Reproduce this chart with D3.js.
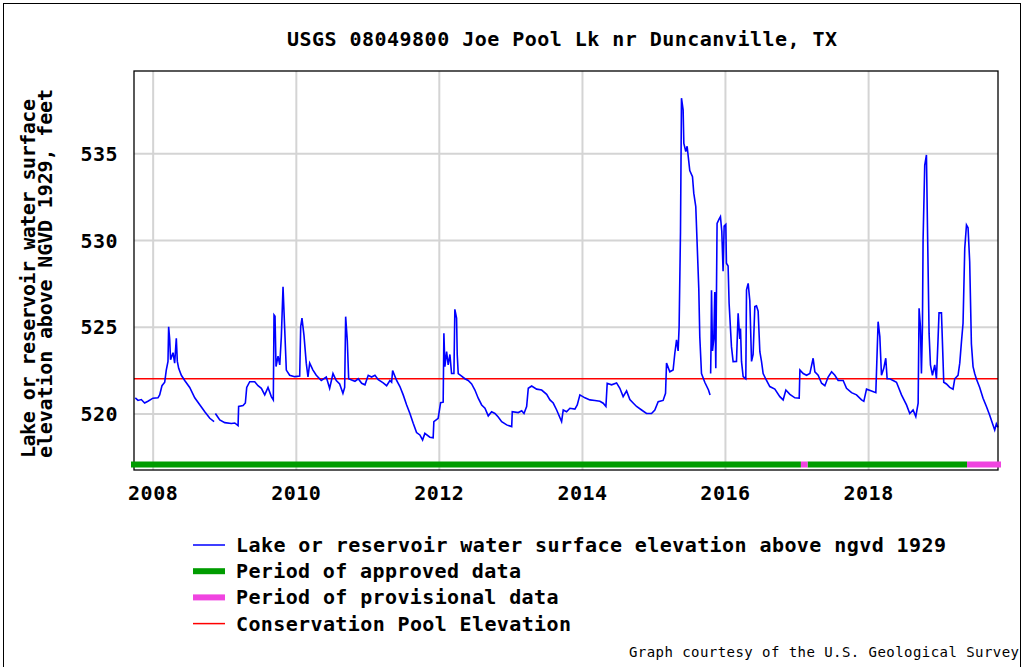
<!DOCTYPE html>
<html><head><meta charset="utf-8">
<script src="https://cdn.jsdelivr.net/npm/d3@7"></script>
<style>
html,body{margin:0;padding:0;background:#fff;}
svg{display:block;}
text{font-family:"DejaVu Sans Mono",monospace;font-weight:bold;fill:#000;}
</style></head>
<body>
<script>
// ---------------- data ----------------
const titleText = "USGS 08049800 Joe Pool Lk nr Duncanville, TX";
const yTitleLines = ["Lake or reservoir water surface", "elevation above NGVD 1929, feet"];
const yTicks = [520, 525, 530, 535];
const xTickYears = [2008, 2010, 2012, 2014, 2016, 2018];
const conservationPool = 522;
const domainYears = [2007.739, 2019.817];
const domainElev = [516.74, 539.74];
const approvedPeriods = [[2007.739, 2017.06], [2017.153, 2019.384]];
const provisionalPeriods = [[2017.06, 2017.153], [2019.384, 2019.817]];
const legendLabels = [
  "Lake or reservoir water surface elevation above ngvd 1929",
  "Period of approved data",
  "Period of provisional data",
  "Conservation Pool Elevation"
];
const creditText = "Graph courtesy of the U.S. Geological Survey";

// decimal-year dates of the daily elevation record (null = missing data)
const years = [
2007.757,2007.795,2007.841,2007.888,2007.934,2008.004,2008.074,2008.098,2008.130,2008.168,
2008.190,2008.214,2008.223,2008.237,2008.250,2008.284,2008.307,2008.330,2008.344,2008.363,
2008.400,2008.447,2008.517,2008.587,2008.657,2008.727,2008.797,2008.857,2008.866,2008.875,
2008.936,2009.006,2009.098,2009.146,2009.192,2009.200,2009.262,2009.294,2009.313,2009.355,
2009.425,2009.471,2009.518,2009.565,2009.611,2009.657,2009.685,2009.695,2009.709,2009.723,
2009.751,2009.775,2009.797,2009.821,2009.845,2009.867,2009.914,2009.984,2010.054,2010.068,
2010.086,2010.114,2010.146,2010.170,2010.194,2010.240,2010.286,2010.356,2010.426,2010.473,
2010.520,2010.566,2010.613,2010.659,2010.683,2010.697,2010.720,2010.739,2010.781,2010.827,
2010.873,2010.921,2010.967,2011.013,2011.060,2011.107,2011.153,2011.222,2011.270,2011.316,
2011.340,2011.354,2011.410,2011.456,2011.502,2011.549,2011.596,2011.642,2011.689,2011.735,
2011.773,2011.805,2011.875,2011.921,2011.931,2011.991,2012.025,2012.061,2012.071,2012.085,
2012.109,2012.131,2012.155,2012.178,2012.211,2012.224,2012.248,2012.257,2012.271,2012.318,
2012.364,2012.410,2012.458,2012.504,2012.550,2012.598,2012.644,2012.690,2012.737,2012.783,
2012.829,2012.877,2012.947,2013.017,2013.025,2013.109,2013.157,2013.189,2013.226,2013.249,
2013.296,2013.366,2013.436,2013.506,2013.552,2013.598,2013.646,2013.715,2013.738,2013.785,
2013.831,2013.901,2013.934,2013.971,2014.041,2014.111,2014.181,2014.251,2014.297,2014.335,
2014.353,2014.414,2014.484,2014.530,2014.576,2014.624,2014.670,2014.716,2014.764,2014.834,
2014.903,2014.973,2015.019,2015.066,2015.135,2015.169,2015.183,2015.229,2015.275,2015.299,
2015.323,2015.345,2015.359,2015.378,2015.392,2015.415,2015.425,2015.452,2015.471,2015.508,
2015.546,2015.564,2015.592,2015.611,2015.634,2015.648,2015.672,2015.718,2015.770,2015.792,
2015.796,2015.800,2015.806,2015.812,2015.826,2015.844,2015.858,2015.872,2015.890,2015.918,
2015.937,2015.956,2015.974,2015.989,2016.012,2016.021,2016.044,2016.058,2016.091,2016.114,
2016.161,2016.184,2016.207,2016.217,2016.231,2016.254,2016.291,2016.301,2016.324,2016.347,
2016.371,2016.393,2016.417,2016.440,2016.463,2016.487,2016.510,2016.533,2016.580,2016.626,
2016.696,2016.766,2016.812,2016.850,2016.906,2016.976,2017.036,2017.046,2017.092,2017.139,
2017.185,2017.231,2017.255,2017.301,2017.349,2017.395,2017.441,2017.489,2017.535,2017.581,
2017.651,2017.698,2017.768,2017.838,2017.908,2017.940,2017.978,2018.048,2018.108,2018.140,
2018.164,2018.187,2018.219,2018.247,2018.266,2018.303,2018.350,2018.397,2018.467,2018.537,
2018.583,2018.629,2018.667,2018.700,2018.713,2018.732,2018.746,2018.760,2018.769,2018.792,
2018.816,2018.830,2018.853,2018.872,2018.900,2018.932,2018.956,2018.978,2018.992,2019.026,
2019.048,2019.058,2019.096,2019.142,2019.188,2019.212,2019.258,2019.282,2019.306,2019.328,
2019.352,2019.376,2019.398,2019.421,2019.445,2019.468,2019.491,2019.515,2019.561,2019.608,
2019.655,2019.701,2019.747,2019.771,2019.794,2019.817
];
// lake elevation, feet above NGVD 1929
const elevation = [
520.9,520.75,520.8,520.6,520.7,520.88,520.9,521.07,521.6,521.8,
522.5,523.0,525.0,524.3,523.1,523.5,522.9,524.33,523.0,522.6,
522.2,521.9,521.5,520.9,520.5,520.1,519.72,519.53,null,520.0,
519.63,519.47,519.42,519.45,519.3,520.4,520.45,520.6,521.5,521.83,
521.83,521.6,521.45,521.07,521.5,520.97,520.78,525.68,525.6,522.7,
523.3,522.8,524.4,527.3,524.8,522.5,522.2,522.12,522.15,525.0,
525.49,524.5,522.9,522.1,522.9,522.5,522.2,521.9,522.1,521.45,
522.3,521.9,521.7,521.16,521.5,525.58,524.2,522.0,521.93,521.85,
522.0,521.74,521.65,522.2,522.1,522.2,521.95,521.76,521.6,521.9,
521.8,522.47,521.9,521.55,521.07,520.5,520.0,519.43,518.9,518.76,
518.47,518.85,518.63,518.6,519.53,519.72,520.62,520.65,524.62,522.7,
523.56,522.8,523.4,522.3,522.3,526.0,525.5,523.4,522.3,522.15,
522.0,521.9,521.7,521.35,520.88,520.49,520.3,519.86,520.1,520.0,
519.8,519.53,519.34,519.24,520.1,520.05,520.15,520.0,520.4,521.45,
521.58,521.4,521.35,521.1,520.78,520.6,520.2,519.53,520.2,520.1,
520.3,520.25,520.49,521.07,520.9,520.78,520.75,520.7,520.59,520.4,
521.74,521.65,521.76,521.45,520.97,521.3,520.8,520.6,520.4,520.2,
520.0,520.0,520.2,520.68,520.75,521.16,522.9,522.4,522.5,523.47,
524.24,523.6,525.0,530.4,538.17,537.5,535.57,535.1,535.4,534.0,
533.65,532.7,531.92,529.8,527.2,524.43,522.3,521.8,521.35,521.07,
null,522.3,524.05,527.1,523.6,524.3,527.0,522.6,530.96,531.2,
531.34,530.5,528.2,530.8,530.9,528.66,528.5,526.35,523.85,522.99,
523.0,525.77,524.3,524.9,523.0,522.12,522.0,527.12,527.5,526.5,
523.0,523.4,526.16,526.2,525.9,523.56,523.0,522.3,521.9,521.55,
521.4,520.97,520.78,521.35,521.1,520.9,520.88,522.5,522.3,522.2,
522.3,523.18,522.4,522.2,521.74,521.6,522.1,522.4,522.2,521.9,
521.9,521.45,521.2,521.07,520.78,520.7,521.4,521.3,521.2,525.29,
524.43,522.2,522.6,523.18,522.0,522.0,521.9,521.8,521.07,520.49,
520.0,520.2,519.82,520.59,526.06,525.0,522.3,525.0,530.0,534.3,
534.9,530.86,524.6,522.8,522.2,522.8,522.0,524.24,525.8,525.8,
523.08,521.8,521.7,521.5,521.4,522.0,522.2,522.9,524.14,525.2,
529.52,530.86,530.7,528.75,524.0,522.7,522.3,521.98,521.5,520.88,
520.4,519.9,519.34,519.05,519.4,519.2
];

// ---------------- chart ----------------
const W = 1025, H = 667;
const M = {left: 134, top: 71, right: 27, bottom: 197};
const PW = W - M.left - M.right, PH = H - M.top - M.bottom;

function yearToDate(v) {
  const yr = Math.floor(v);
  const a = new Date(yr, 0, 1), b = new Date(yr + 1, 0, 1);
  return new Date(+a + (v - yr) * (b - a));
}
const series = years.map((t, i) => ({date: yearToDate(t), value: elevation[i]}));

const x = d3.scaleTime().domain(domainYears.map(yearToDate)).range([M.left, M.left + PW]);
const y = d3.scaleLinear().domain(domainElev).range([M.top + PH, M.top]);

const svg = d3.select("body").append("svg").attr("width", W).attr("height", H);

// outer frame
svg.append("rect").attr("x", 3.5).attr("y", 3.5).attr("width", 1017).attr("height", 700)
  .attr("fill", "none").attr("stroke", "#000").attr("stroke-width", 1);

// title
svg.append("text").attr("x", M.left + PW / 2 - 4).attr("y", 46)
  .attr("text-anchor", "middle").attr("font-size", 20)
  .attr("textLength", 550).attr("lengthAdjust", "spacing").text(titleText);

// y axis title (two rotated lines)
const yTitleX = [35, 52], yTitleLen = [359, 369];
yTitleLines.forEach((t, i) => {
  svg.append("text").attr("transform", `translate(${yTitleX[i]},458) rotate(-90)`)
    .attr("font-size", 20).attr("textLength", yTitleLen[i]).attr("lengthAdjust", "spacing").text(t);
});

// gridlines + tick labels via axes
const yAxis = svg.append("g").attr("transform", `translate(${M.left},0)`)
  .call(d3.axisLeft(y).tickValues(yTicks).tickSize(-PW).tickPadding(16).tickFormat(d3.format("d")));
yAxis.select(".domain").remove();
yAxis.selectAll("line").attr("stroke", "#d4d4d4").attr("stroke-width", 2);
yAxis.selectAll("text").attr("font-size", 20).attr("font-family", "DejaVu Sans Mono")
  .attr("font-weight", "bold").attr("dy", "0.36em").attr("letter-spacing", 0.5);

const xAxis = svg.append("g").attr("transform", `translate(0,${M.top + PH})`)
  .call(d3.axisBottom(x).tickValues(xTickYears.map(v => yearToDate(v))).tickSize(-PH).tickFormat(d3.timeFormat("%Y")));
xAxis.select(".domain").remove();
xAxis.selectAll("line").attr("stroke", "#d4d4d4").attr("stroke-width", 2);
xAxis.selectAll("text").attr("font-size", 20).attr("font-family", "DejaVu Sans Mono")
  .attr("font-weight", "bold").attr("y", 30).attr("dy", 0).attr("letter-spacing", 0.5);

// conservation pool line
svg.append("line").attr("x1", M.left).attr("x2", M.left + PW)
  .attr("y1", y(conservationPool)).attr("y2", y(conservationPool))
  .attr("stroke", "#ff0000").attr("stroke-width", 1.5);

// elevation line
const line = d3.line().defined(d => d.value !== null).x(d => x(d.date)).y(d => y(d.value));
svg.append("path").datum(series).attr("d", line)
  .attr("fill", "none").attr("stroke", "#0000ff").attr("stroke-width", 1.6).attr("stroke-linejoin", "miter");

// plot border
svg.append("rect").attr("x", M.left).attr("y", M.top).attr("width", PW).attr("height", PH)
  .attr("fill", "none").attr("stroke", "#000").attr("stroke-width", 1.3);

// data-status bars
const barY = M.top + PH - 8.5, barH = 6, cap = 3;
const allPeriods = approvedPeriods.map(p => ({p, c: "#009c00"}))
  .concat(provisionalPeriods.map(p => ({p, c: "#f044e0"})));
const tMin = domainYears[0], tMax = domainYears[1];
allPeriods.forEach(({p, c}) => {
  const x0 = x(yearToDate(p[0])) - (p[0] === tMin ? cap : 0);
  const x1 = x(yearToDate(p[1])) + (p[1] === tMax ? cap : 0);
  svg.append("rect").attr("x", x0).attr("y", barY).attr("width", x1 - x0).attr("height", barH).attr("fill", c);
});

// legend
const legX = 193, legY0 = 545, legDY = 26.2;
const legendKinds = [
  {c: "#0000ff", h: 1.5}, {c: "#009c00", h: 6}, {c: "#f044e0", h: 6}, {c: "#ff0000", h: 1.5}
];
legendLabels.forEach((t, i) => {
  const cy = legY0 + i * legDY;
  svg.append("rect").attr("x", legX).attr("y", cy - legendKinds[i].h / 2).attr("width", 32)
    .attr("height", legendKinds[i].h).attr("fill", legendKinds[i].c);
  svg.append("text").attr("x", 236).attr("y", cy + 7).attr("font-size", 20)
    .attr("textLength", t.length * 12.5 - 2.5).attr("lengthAdjust", "spacing").text(t);
});

// credit
svg.append("text").attr("x", 629).attr("y", 657).attr("font-size", 14)
  .style("font-weight", "normal").attr("textLength", 390).attr("lengthAdjust", "spacing").text(creditText);
</script>
</body></html>
